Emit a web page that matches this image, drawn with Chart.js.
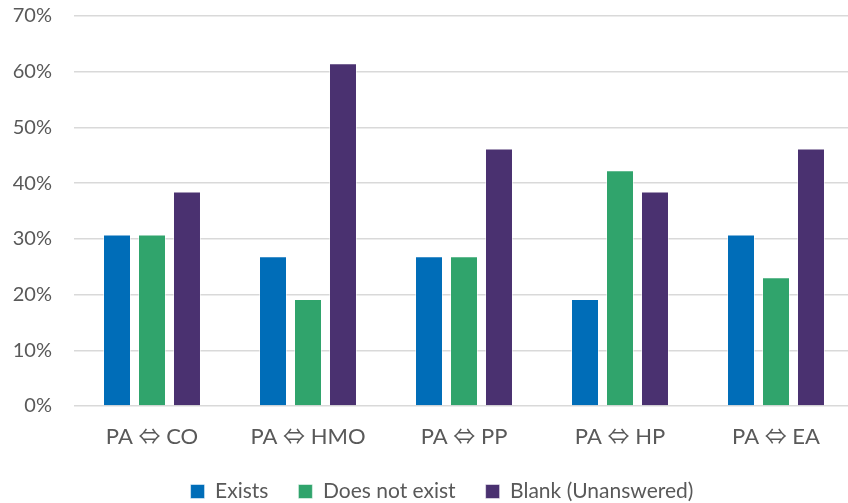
<!DOCTYPE html>
<html>
<head>
<meta charset="utf-8">
<script src="https://cdn.jsdelivr.net/npm/chart.js@4/dist/chart.umd.min.js"></script>
<style>
  html, body { margin: 0; padding: 0; background: #fff; overflow: hidden; width: 848px; height: 503px; }
  #wrap { position: absolute; left: 0; top: 0; width: 878px; height: 512px; }
</style>
</head>
<body>
<div id="wrap"><canvas id="c" width="878" height="512"></canvas></div>
<script>
// Relationship pairs along the x axis
const categories = ['PA \u21D4 CO', 'PA \u21D4 HMO', 'PA \u21D4 PP', 'PA \u21D4 HP', 'PA \u21D4 EA'];

// Share of responses, in percent
const exists       = [30.8, 26.9, 26.9, 19.2, 30.8];
const doesNotExist = [30.8, 19.2, 26.9, 42.3, 23.1];
const blank        = [38.5, 61.5, 46.2, 38.5, 46.2];

const seriesNames = ['Exists', 'Does not exist', 'Blank (Unanswered)'];
const yTicks = [0, 10, 20, 30, 40, 50, 60, 70];

const textColor = '#595959';
const fontFamily = 'Lato, "Noto Sans CJK JP", "DejaVu Sans", sans-serif';

const mk = (label, data, color) => ({
  label, data,
  backgroundColor: color,
  borderColor: 'rgba(255,255,255,0.5)',
  borderWidth: 1,
  categoryPercentage: 0.673,
  barPercentage: 0.8
});

// Nudge the legend row to the right so it sits under the middle of the plot
const legendShift = {
  id: 'legendShift',
  afterLayout(chart) {
    const lg = chart.legend;
    if (!lg) return;
    lg.left += 15;
    lg.right += 15;
    lg.adjustHitBoxes();
  }
};

new Chart(document.getElementById('c'), {
  type: 'bar',
  data: {
    labels: categories,
    datasets: [
      mk(seriesNames[0], exists, '#006DB8'),
      mk(seriesNames[1], doesNotExist, '#30A46C'),
      mk(seriesNames[2], blank, '#4A3170')
    ]
  },
  plugins: [legendShift],
  options: {
    responsive: false,
    animation: false,
    layout: { padding: { top: 0, right: 24, bottom: 0, left: 0 } },
    plugins: {
      tooltip: { enabled: false },
      legend: {
        position: 'bottom',
        labels: {
          color: textColor,
          font: { family: fontFamily, size: 21 },
          boxWidth: 14,
          boxHeight: 14,
          padding: 30,
          useBorderRadius: false
        }
      }
    },
    scales: {
      x: {
        grid: { display: false, drawTicks: false },
        border: { display: false },
        afterFit: (axis) => { axis.height = axis.chart.height - 406 - axis.chart.legend.height; },
        ticks: {
          color: textColor,
          font: { family: fontFamily, size: 22 },
          padding: 18,
          maxRotation: 0
        }
      },
      y: {
        min: 0,
        max: 70,
        afterBuildTicks: (axis) => { axis.ticks = yTicks.map(v => ({ value: v })); },
        afterFit: (axis) => { axis.width = 74; axis.paddingTop = 16; axis.paddingBottom = 0; },
        grid: { color: '#D9D9D9', lineWidth: 1.4, drawTicks: false },
        border: { display: false },
        ticks: {
          color: textColor,
          font: { family: fontFamily, size: 20 },
          padding: 22,
          callback: (v) => v + '%'
        }
      }
    }
  }
});
</script>
</body>
</html>
